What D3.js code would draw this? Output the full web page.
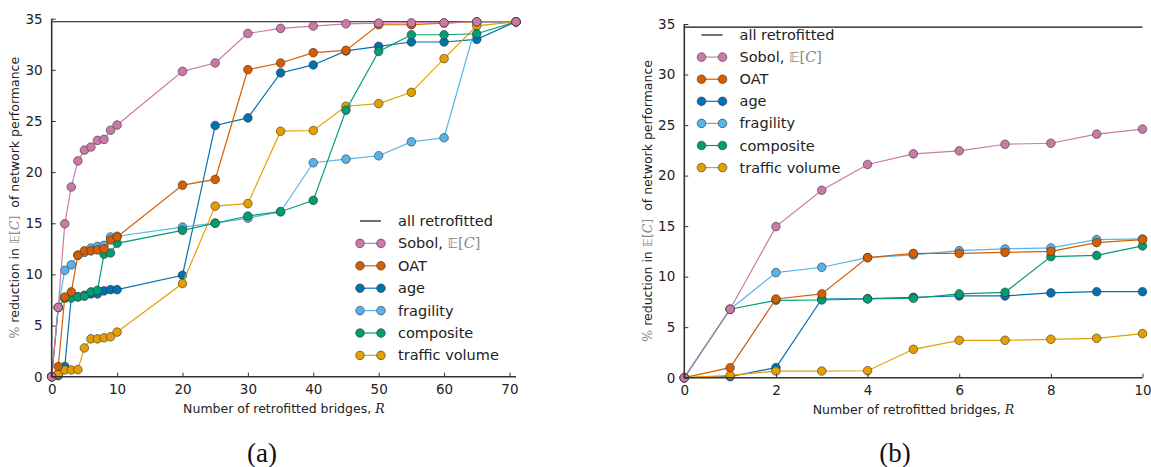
<!DOCTYPE html>
<html><head><meta charset="utf-8">
<script src="https://cdn.jsdelivr.net/npm/d3@7"></script>
<style>
html,body{margin:0;padding:0;background:#fff;}
svg{display:block;font-family:"DejaVu Sans",sans-serif;}
</style></head>
<body>
<svg id="chart" width="1151" height="467"></svg>
<script>
// ---- data ----
const xFull = [0,1,2,3,4,5,6,7,8,9,10,20,25,30,35,40,45,50,55,60,65,71];
const xZoom = [0,1,2,3,4,5,6,7,8,9,10];
const allRetrofitted = 34.7;
const sobol     = [0,6.77,14.95,18.55,21.1,22.15,22.45,23.1,23.2,24.1,24.6,29.85,30.67,33.56,34.05,34.28,34.5,34.57,34.6,34.6,34.7,34.7];
const oat       = [0,0.99,7.79,8.29,11.88,12.3,12.3,12.4,12.5,13.37,13.66,18.73,19.29,30.02,30.67,31.68,31.9,34.41,34.41,34.57,34.7,34.7];
const age       = [0,0.1,1.0,7.79,7.82,7.96,8.09,8.09,8.39,8.51,8.51,9.92,24.56,25.3,29.7,30.48,31.85,32.3,32.72,32.72,32.98,34.7];
const fragility = [0,6.77,10.4,10.93,11.88,12.15,12.57,12.74,12.84,13.66,13.73,14.63,15.02,15.5,16.13,20.92,21.27,21.6,22.96,23.36,34.65,34.7];
const composite = [0,6.77,7.66,7.69,7.79,7.86,8.29,8.45,11.98,12.1,13.04,14.31,15.0,15.71,16.13,17.24,26.05,31.8,33.43,33.43,33.53,34.7];
const traffic   = [0,0.23,0.66,0.66,0.69,2.81,3.7,3.7,3.8,3.9,4.36,9.11,16.68,16.92,24.0,24.07,26.44,26.7,27.8,31.1,34.3,34.7];
const seriesNames  = ["Sobol","OAT","age","fragility","composite","traffic volume"];
const seriesValues = [sobol, oat, age, fragility, composite, traffic];
const seriesColors = ["#CC79A7","#D55E00","#0072B2","#56B4E9","#009E73","#E69F00"];
const drawOrder    = [2,3,5,4,1,0]; // age, fragility, traffic, composite, OAT, Sobol
const yTicks = [0,5,10,15,20,25,30,35];
const xTicksA = [0,10,20,30,40,50,60,70];
const xTicksB = [0,2,4,6,8,10];

const svg = d3.select("#chart");
const spineColor = "#333";
const textColor = "#222";

function panel(cfg){
  const g = svg.append("g");
  const x = d3.scaleLinear().domain(cfg.xDomain).range([cfg.left, cfg.right]);
  const y = d3.scaleLinear().domain([0,35]).range([cfg.bottom, cfg.top]);
  const n = cfg.xs.length;

  // all retrofitted line
  g.append("line").attr("x1", x(cfg.xDomain[0])).attr("x2", x(cfg.xDomain[1]))
    .attr("y1", y(allRetrofitted)).attr("y2", y(allRetrofitted))
    .attr("stroke","#111").attr("stroke-width",1.2);

  const line = d3.line().x(d=>x(d[0])).y(d=>y(d[1]));
  drawOrder.forEach(si=>{
    const pts = cfg.xs.map((xv,i)=>[xv, seriesValues[si][i]]);
    g.append("path").datum(pts).attr("d", line).attr("fill","none")
      .attr("stroke", seriesColors[si]).attr("stroke-width",1.2);
    g.selectAll(null).data(pts).enter().append("circle")
      .attr("cx", d=>x(d[0])).attr("cy", d=>y(d[1])).attr("r",4.3)
      .attr("fill", seriesColors[si]).attr("stroke","#333").attr("stroke-width",0.6);
  });

  // axes (ticks inside)
  const xAxis = d3.axisBottom(x).tickValues(cfg.xTicks).tickSize(-4).tickPadding(8).tickFormat(d3.format("d"));
  const yAxis = d3.axisLeft(y).tickValues(yTicks).tickSize(-4).tickPadding(9).tickFormat(d3.format("d"));
  const gx = g.append("g").attr("transform",`translate(0,${cfg.bottom})`).call(xAxis);
  const gy = g.append("g").attr("transform",`translate(${cfg.left},0)`).call(yAxis);
  [gx,gy].forEach(a=>{
    a.attr("font-family",null).attr("font-size",null);
    a.select(".domain").attr("stroke",spineColor).attr("stroke-width",1.6);
    a.selectAll(".tick line").attr("stroke",spineColor).attr("stroke-width",1);
    a.selectAll(".tick text").style("font-family","DejaVu Sans").style("font-size","13.5px").attr("fill",textColor);
  });
  gx.select(".domain").attr("d", `M${cfg.left},0H${cfg.right}`);
  gy.select(".domain").attr("d", `M0,${cfg.bottom}V${cfg.top}`);

  // x label
  const xl = g.append("text").attr("x",(cfg.left+cfg.right)/2).attr("y",cfg.bottom+36)
    .attr("text-anchor","middle").style("font-size","12.5px").attr("fill",textColor);
  xl.append("tspan").text("Number of retrofitted bridges, ");
  xl.append("tspan").text("R").style("font-family","DejaVu Serif").style("font-style","italic");

  // y label
  const yl = g.append("text").attr("transform",`translate(${cfg.ylx},${(cfg.top+cfg.bottom)/2}) rotate(-90)`)
    .attr("text-anchor","middle").style("font-size","12.5px").attr("fill",textColor);
  yl.append("tspan").text("%").attr("fill","#888").style("font-family","DejaVu Serif");
  yl.append("tspan").text(" reduction in ");
  yl.append("tspan").text("\u{1D53C}[").attr("fill","#888");
  yl.append("tspan").text("C").attr("fill","#888").style("font-family","DejaVu Serif").style("font-style","italic");
  yl.append("tspan").text("]").attr("fill","#888");
  yl.append("tspan").text("\u00a0 of network performance");

  // legend
  const lg = g.append("g");
  const rows = [{name:"all retrofitted", idx:-1}].concat(seriesNames.map((nm,i)=>({name:nm, idx:i})));
  rows.forEach((r,k)=>{
    const cy = cfg.legY + k*cfg.legStep;
    const x1 = cfg.legX, x2 = cfg.legX + 21;
    if(r.idx<0){
      lg.append("line").attr("x1",x1).attr("x2",x2).attr("y1",cy).attr("y2",cy)
        .attr("stroke","#111").attr("stroke-width",1.2);
    } else {
      const c = seriesColors[r.idx];
      lg.append("line").attr("x1",x1).attr("x2",x2).attr("y1",cy).attr("y2",cy)
        .attr("stroke",c).attr("stroke-width",1.2);
      [x1,x2].forEach(px=>lg.append("circle").attr("cx",px).attr("cy",cy).attr("r",4.3)
        .attr("fill",c).attr("stroke","#333").attr("stroke-width",0.6));
    }
    const t = lg.append("text").attr("x",cfg.legX+38).attr("y",cy+5).style("font-size","14.5px").attr("fill",textColor);
    if(r.idx===0){
      t.append("tspan").text("Sobol, ");
      t.append("tspan").text("\u{1D53C}[").attr("fill","#888");
      t.append("tspan").text("C").attr("fill","#888").style("font-family","DejaVu Serif").style("font-style","italic");
      t.append("tspan").text("]").attr("fill","#888");
    } else {
      t.text(r.name);
    }
  });

  // caption
  svg.append("text").attr("x",cfg.capX).attr("y",462).attr("text-anchor","middle").attr("fill","#111")
    .style("font-family","'Liberation Serif','DejaVu Serif',serif").style("font-size","27px").text(cfg.caption);
}

panel({xs:xFull, xDomain:[0,71], left:51.7, right:516, top:18.7, bottom:376.7,
       xTicks:xTicksA, ylx:19, legX:360, legY:221, legStep:22.4, capX:262, caption:"(a)"});
panel({xs:xZoom, xDomain:[0,10], left:684.3, right:1142.5, top:24, bottom:377.7,
       xTicks:xTicksB, ylx:652, legX:701.5, legY:35, legStep:22.1, capX:895, caption:"(b)"});
</script>
</body></html>
